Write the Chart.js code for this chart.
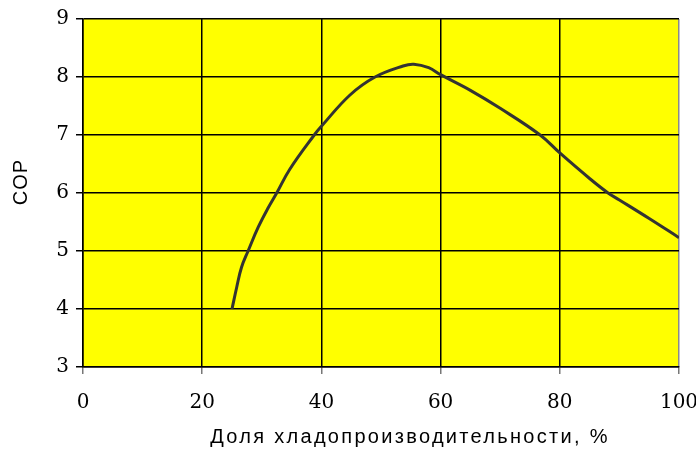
<!DOCTYPE html>
<html>
<head>
<meta charset="utf-8">
<script src="https://cdn.jsdelivr.net/npm/chart.js@4"></script>
<style>
  html, body { margin: 0; padding: 0; background: #fff; }
  #wrap { width: 696px; height: 449px; }
</style>
</head>
<body>
<div id="wrap"><canvas id="myChart" width="696" height="449"></canvas></div>
<script>
// доля хладопроизводительности, %
const dolya = [25, 25.8, 26.6, 27.7, 29.4, 31.1, 32.5, 34.7, 38.8, 40, 44.8, 49, 53.7, 55.5, 58, 60, 65, 70, 76.7, 80, 85, 88.1, 90, 95, 100];
// COP
const cop = [4.0, 4.38, 4.72, 5.0, 5.41, 5.75, 6.0, 6.41, 7.0, 7.15, 7.69, 8.0, 8.19, 8.22, 8.16, 8.04, 7.77, 7.46, 7.0, 6.69, 6.25, 6.0, 5.88, 5.56, 5.23];

const xTitle = 'Доля хладопроизводительности, %';
const yTitle = 'COP';

const points = dolya.map((x, i) => ({x: x, y: cop[i]}));

// жёлтый фон области построения + подписи осей
const plotBg = {
    id: 'plotBg',
    beforeDraw(chart) {
        const a = chart.chartArea;
        const c = chart.ctx;
        c.save();
        c.fillStyle = '#ffff00';
        c.fillRect(a.left, a.top, a.right - a.left, a.bottom - a.top);
        c.restore();
    },
    afterDraw(chart) {
        const c = chart.ctx;
        c.save();
        c.fillStyle = '#000';
        c.font = '20px "Liberation Sans", Arial, sans-serif';
        c.letterSpacing = '2.3px';
        c.textAlign = 'center';
        c.textBaseline = 'middle';
        c.fillText(xTitle, 410, 437);
        c.letterSpacing = '1px';
        c.translate(21, 182);
        c.rotate(-Math.PI / 2);
        c.fillText(yTitle, 0, 0);
        c.restore();
    }
};

const tickFont = { family: '"DejaVu Serif", serif', size: 20 };

const ctx = document.getElementById('myChart').getContext('2d');
const myChart = new Chart(ctx, {
    type: 'scatter',
    data: {
        datasets: [{
            data: points,
            showLine: true,
            borderColor: '#333333',
            borderWidth: 3,
            pointRadius: 0,
            tension: 0.4
        }]
    },
    options: {
        responsive: false,
        animation: false,
        layout: { padding: { top: 17, right: 17, left: 0, bottom: 0 } },
        plugins: { legend: { display: false }, tooltip: { enabled: false } },
        scales: {
            x: {
                type: 'linear',
                min: 0,
                max: 100,
                afterFit(scale) { scale.height = 82; scale.paddingRight = 0; },
                ticks: {
                    stepSize: 20,
                    color: '#000',
                    padding: 17,
                    font: tickFont
                },
                grid: {
                    color: c => (c.tick && c.tick.value === 100) ? '#8a8a8a' : '#000',
                    lineWidth: 1.5,
                    tickLength: 7,
                    tickColor: '#777'
                },
                border: { color: '#000', width: 1.5 }
            },
            y: {
                min: 3,
                max: 9,
                afterFit(scale) { scale.width = 83; },
                ticks: {
                    stepSize: 1,
                    color: '#000',
                    padding: 7,
                    font: tickFont
                },
                grid: {
                    color: '#000',
                    lineWidth: 1.5,
                    tickLength: 7,
                    tickColor: '#000'
                },
                border: { color: '#000', width: 1.5 }
            }
        }
    },
    plugins: [plotBg]
});
</script>
</body>
</html>
